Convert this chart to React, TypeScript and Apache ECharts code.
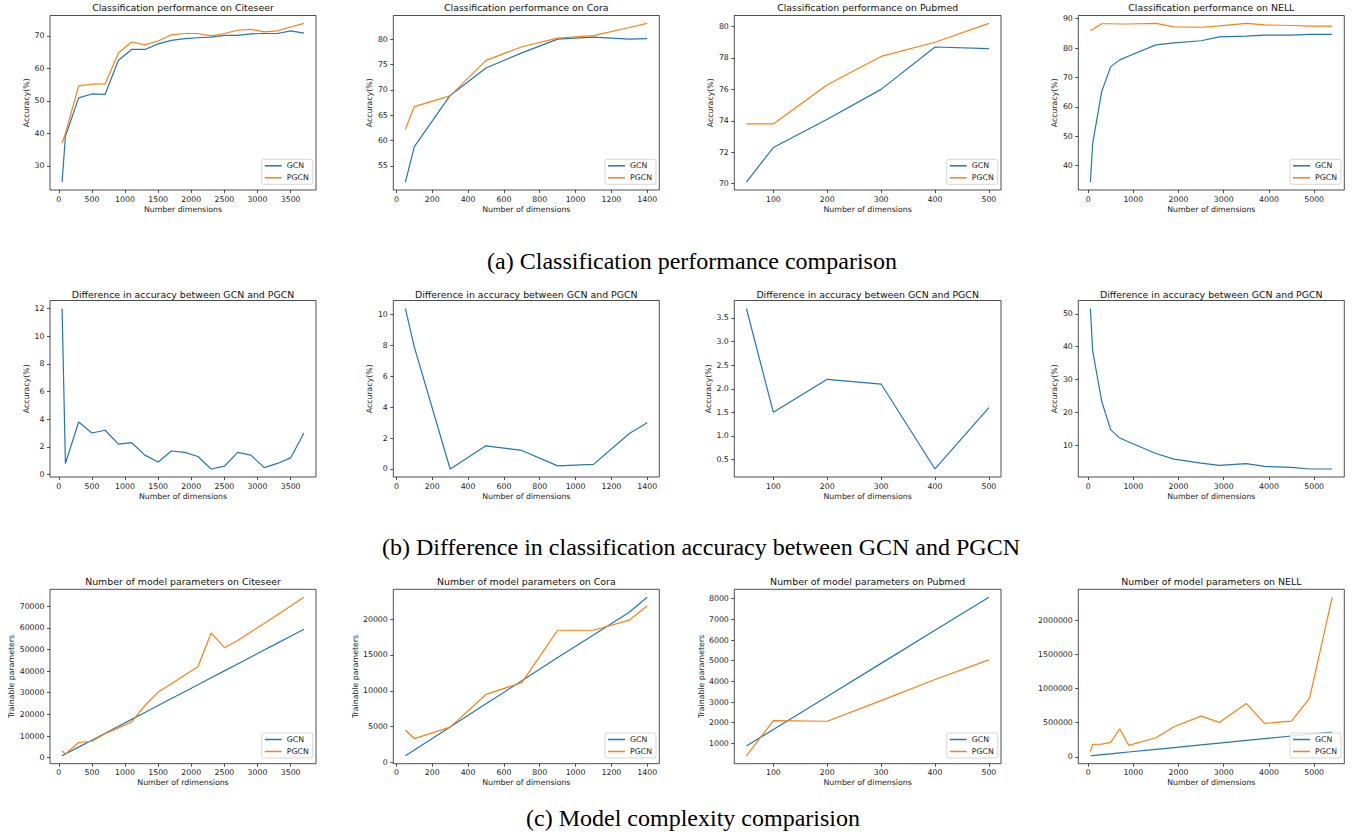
import React, { useEffect, useRef } from "react";
import * as echarts from "echarts";

const BLUE = "#1f77b4";
const ORANGE = "#ff7f0e";
const TXT = "#222";
const FONT = "DejaVu Sans";

// ---------- Citeseer ----------
const citeseerDims = [50, 100, 300, 500, 700, 900, 1100, 1300, 1500, 1700, 1900, 2100, 2300, 2500, 2700, 2900, 3100, 3300, 3500, 3700];
const citeseerGcnAcc = [25.0, 39.1, 50.9, 52.1, 52.0, 62.5, 65.8, 65.8, 67.5, 68.6, 69.1, 69.4, 69.6, 70.1, 70.1, 70.6, 70.7, 70.7, 71.5, 70.8];
const citeseerPgcnAcc = [37.0, 39.9, 54.6, 55.1, 55.2, 64.7, 68.1, 67.2, 68.4, 70.3, 70.7, 70.7, 70.0, 70.7, 71.7, 72.0, 71.2, 71.5, 72.7, 73.8];
const citeseerAccDiff = [12.0, 0.8, 3.8, 3.0, 3.2, 2.2, 2.3, 1.4, 0.9, 1.7, 1.6, 1.3, 0.4, 0.6, 1.6, 1.4, 0.5, 0.8, 1.2, 3.0];
const citeseerGcnParams = [900, 1700, 4900, 8100, 11300, 14500, 17700, 20900, 24100, 27300, 30500, 33700, 36900, 40100, 43300, 46500, 49700, 52900, 56100, 59300];
const citeseerPgcnParams = [3100, 1700, 7000, 7600, 11100, 13800, 16500, 24100, 30300, 34200, 38100, 42000, 57600, 50800, 54100, 58100, 62000, 66000, 70000, 74100];

// ---------- Cora ----------
const coraDims = [50, 100, 300, 500, 700, 900, 1100, 1300, 1400];
const coraGcnAcc = [51.8, 58.8, 68.9, 74.3, 77.3, 80.0, 80.4, 80.0, 80.1];
const coraPgcnAcc = [62.2, 66.7, 68.8, 75.8, 78.5, 80.2, 80.7, 82.3, 83.1];
const coraAccDiff = [10.4, 7.9, 0.0, 1.5, 1.2, 0.2, 0.3, 2.3, 3.0];
const coraGcnParams = [950, 1750, 4950, 8200, 11400, 14650, 17800, 20950, 23050];
const coraPgcnParams = [4550, 3350, 4950, 9500, 11150, 18450, 18450, 19850, 21850];

// ---------- Pubmed ----------
const pubmedDims = [50, 100, 200, 300, 400, 500];
const pubmedGcnAcc = [70.1, 72.3, 74.1, 76.0, 78.7, 78.6];
const pubmedPgcnAcc = [73.8, 73.8, 76.3, 78.1, 79.0, 80.2];
const pubmedAccDiff = [3.7, 1.5, 2.2, 2.1, 0.3, 1.6];
const pubmedGcnParams = [870, 1670, 3270, 4870, 6470, 8070];
const pubmedPgcnParams = [400, 2100, 2070, 3070, 4090, 5040];

// ---------- NELL ----------
const nellDims = [50, 100, 300, 500, 700, 900, 1500, 1900, 2500, 2900, 3500, 3900, 4500, 4900, 5400];
const nellGcnAcc = [34.4, 47.5, 65.2, 73.7, 76.0, 77.3, 81.1, 81.8, 82.5, 83.8, 84.1, 84.4, 84.4, 84.7, 84.7];
const nellPgcnAcc = [86.1, 86.3, 88.3, 88.3, 88.2, 88.2, 88.4, 87.2, 87.1, 87.6, 88.4, 87.9, 87.7, 87.5, 87.5];
const nellAccDiff = [51.6, 38.8, 23.4, 14.7, 12.2, 11.0, 7.5, 5.8, 4.6, 3.9, 4.4, 3.6, 3.3, 2.8, 2.8];
const nellGcnParams = [15000, 18000, 31000, 44000, 57000, 70000, 110000, 136000, 175000, 201000, 240000, 266000, 305000, 331000, 364000];
const nellPgcnParams = [78000, 181000, 186000, 211000, 412000, 167000, 279000, 441000, 598000, 505000, 784000, 490000, 525000, 863000, 2343000];

// ---------- tick labels ----------
const citeseerXTicks = [0, 500, 1000, 1500, 2000, 2500, 3000, 3500];
const coraXTicks = [0, 200, 400, 600, 800, 1000, 1200, 1400];
const pubmedXTicks = [100, 200, 300, 400, 500];
const nellXTicks = [0, 1000, 2000, 3000, 4000, 5000];

const citeseerAccTicks = [30, 40, 50, 60, 70];
const coraAccTicks = [55, 60, 65, 70, 75, 80];
const pubmedAccTicks = [70, 72, 74, 76, 78, 80];
const nellAccTicks = [40, 50, 60, 70, 80, 90];
const citeseerDiffTicks = [0, 2, 4, 6, 8, 10, 12];
const coraDiffTicks = [0, 2, 4, 6, 8, 10];
const pubmedDiffTicks = [0.5, 1.0, 1.5, 2.0, 2.5, 3.0, 3.5];
const nellDiffTicks = [10, 20, 30, 40, 50];
const citeseerParamTicks = [0, 10000, 20000, 30000, 40000, 50000, 60000, 70000];
const coraParamTicks = [0, 5000, 10000, 15000, 20000];
const pubmedParamTicks = [1000, 2000, 3000, 4000, 5000, 6000, 7000, 8000];
const nellParamTicks = [0, 500000, 1000000, 1500000, 2000000];

const captions = [
  "(a) Classification performance comparison",
  "(b) Difference in classification accuracy between GCN and PGCN",
  "(c) Model complexity comparision",
];

// ---------- layout ----------
const COLS = [
  { left: 50, right: 316 },
  { left: 393.3, right: 659.3 },
  { left: 734.3, right: 1001 },
  { left: 1078.3, right: 1344.3 },
];
const ROWS = [
  { top: 15.5, bottom: 190, titleY: 7.5 },
  { top: 300.5, bottom: 477, titleY: 294.3 },
  { top: 589.3, bottom: 763.7, titleY: 581.3 },
];
const CAPTION_POS = [
  { x: 692, y: 261 },
  { x: 701, y: 547 },
  { x: 693, y: 818 },
];

type Panel = {
  row: number;
  col: number;
  title: string;
  xName: string;
  yName: string;
  yNameGap: number;
  dims: number[];
  lines: { name: string; values: number[]; color: string }[];
  xTicks: number[];
  yTicks: number[];
  decimals: number;
  legend: boolean;
};

const acc = "Accuracy(%)";
const par = "Trainable parameters";
const nod = "Number of dimensions";
const diffTitle = "Difference in accuracy between GCN and PGCN";

const panels: Panel[] = [
  { row: 0, col: 0, title: "Classification performance on Citeseer", xName: "Number dimensions", yName: acc, yNameGap: 19, dims: citeseerDims,
    lines: [{ name: "GCN", values: citeseerGcnAcc, color: BLUE }, { name: "PGCN", values: citeseerPgcnAcc, color: ORANGE }],
    xTicks: citeseerXTicks, yTicks: citeseerAccTicks, decimals: 0, legend: true },
  { row: 0, col: 1, title: "Classification performance on Cora", xName: nod, yName: acc, yNameGap: 19, dims: coraDims,
    lines: [{ name: "GCN", values: coraGcnAcc, color: BLUE }, { name: "PGCN", values: coraPgcnAcc, color: ORANGE }],
    xTicks: coraXTicks, yTicks: coraAccTicks, decimals: 0, legend: true },
  { row: 0, col: 2, title: "Classification performance on Pubmed", xName: nod, yName: acc, yNameGap: 19, dims: pubmedDims,
    lines: [{ name: "GCN", values: pubmedGcnAcc, color: BLUE }, { name: "PGCN", values: pubmedPgcnAcc, color: ORANGE }],
    xTicks: pubmedXTicks, yTicks: pubmedAccTicks, decimals: 0, legend: true },
  { row: 0, col: 3, title: "Classification performance on NELL", xName: nod, yName: acc, yNameGap: 19, dims: nellDims,
    lines: [{ name: "GCN", values: nellGcnAcc, color: BLUE }, { name: "PGCN", values: nellPgcnAcc, color: ORANGE }],
    xTicks: nellXTicks, yTicks: nellAccTicks, decimals: 0, legend: true },

  { row: 1, col: 0, title: diffTitle, xName: nod, yName: acc, yNameGap: 19, dims: citeseerDims,
    lines: [{ name: "diff", values: citeseerAccDiff, color: BLUE }],
    xTicks: citeseerXTicks, yTicks: citeseerDiffTicks, decimals: 0, legend: false },
  { row: 1, col: 1, title: diffTitle, xName: nod, yName: acc, yNameGap: 19, dims: coraDims,
    lines: [{ name: "diff", values: coraAccDiff, color: BLUE }],
    xTicks: coraXTicks, yTicks: coraDiffTicks, decimals: 0, legend: false },
  { row: 1, col: 2, title: diffTitle, xName: nod, yName: acc, yNameGap: 19, dims: pubmedDims,
    lines: [{ name: "diff", values: pubmedAccDiff, color: BLUE }],
    xTicks: pubmedXTicks, yTicks: pubmedDiffTicks, decimals: 1, legend: false },
  { row: 1, col: 3, title: diffTitle, xName: nod, yName: acc, yNameGap: 19, dims: nellDims,
    lines: [{ name: "diff", values: nellAccDiff, color: BLUE }],
    xTicks: nellXTicks, yTicks: nellDiffTicks, decimals: 0, legend: false },

  { row: 2, col: 0, title: "Number of model parameters on Citeseer", xName: "Number of rdimensions", yName: par, yNameGap: 34, dims: citeseerDims,
    lines: [{ name: "GCN", values: citeseerGcnParams, color: BLUE }, { name: "PGCN", values: citeseerPgcnParams, color: ORANGE }],
    xTicks: citeseerXTicks, yTicks: citeseerParamTicks, decimals: 0, legend: true },
  { row: 2, col: 1, title: "Number of model parameters on Cora", xName: nod, yName: par, yNameGap: 34, dims: coraDims,
    lines: [{ name: "GCN", values: coraGcnParams, color: BLUE }, { name: "PGCN", values: coraPgcnParams, color: ORANGE }],
    xTicks: coraXTicks, yTicks: coraParamTicks, decimals: 0, legend: true },
  { row: 2, col: 2, title: "Number of model parameters on Pubmed", xName: nod, yName: par, yNameGap: 29, dims: pubmedDims,
    lines: [{ name: "GCN", values: pubmedGcnParams, color: BLUE }, { name: "PGCN", values: pubmedPgcnParams, color: ORANGE }],
    xTicks: pubmedXTicks, yTicks: pubmedParamTicks, decimals: 0, legend: true },
  { row: 2, col: 3, title: "Number of model parameters on NELL", xName: nod, yName: "", yNameGap: 30, dims: nellDims,
    lines: [{ name: "GCN", values: nellGcnParams, color: BLUE }, { name: "PGCN", values: nellPgcnParams, color: ORANGE }],
    xTicks: nellXTicks, yTicks: nellParamTicks, decimals: 0, legend: true },
];

function padded(values: number[]): [number, number] {
  const lo = Math.min(...values);
  const hi = Math.max(...values);
  const m = (hi - lo) * 0.05;
  return [lo - m, hi + m];
}

function buildOption() {
  const grid: any[] = [];
  const xAxis: any[] = [];
  const yAxis: any[] = [];
  const series: any[] = [];
  const legend: any[] = [];
  const graphic: any[] = [];

  panels.forEach((p, i) => {
    const c = COLS[p.col];
    const r = ROWS[p.row];
    grid.push({
      left: c.left, top: r.top, width: c.right - c.left, height: r.bottom - r.top,
      show: true, borderColor: TXT, borderWidth: 0.8, backgroundColor: "transparent",
    });
    const [xMin, xMax] = padded(p.dims);
    const allY = p.lines.flatMap((l) => l.values);
    const [yMin, yMax] = padded(allY);
    xAxis.push({
      gridIndex: i, type: "value", min: xMin, max: xMax, position: "bottom",
      axisLine: { show: false, onZero: false },
      axisTick: { show: true, length: 3, customValues: p.xTicks, lineStyle: { color: TXT, width: 0.8 } },
      axisLabel: { customValues: p.xTicks, margin: 5, fontSize: 7.8, color: TXT, fontFamily: FONT, formatter: (v: number) => String(v) },
      splitLine: { show: false },
      name: p.xName, nameLocation: "middle", nameGap: 15,
      nameTextStyle: { fontSize: 7.8, color: TXT, fontFamily: FONT },
    });
    yAxis.push({
      gridIndex: i, type: "value", min: yMin, max: yMax, position: "left",
      axisLine: { show: false, onZero: false },
      axisTick: { show: true, length: 3, customValues: p.yTicks, lineStyle: { color: TXT, width: 0.8 } },
      axisLabel: {
        customValues: p.yTicks, margin: 5.5, fontSize: 7.8, color: TXT, fontFamily: FONT,
        formatter: (v: number) => (p.decimals ? v.toFixed(p.decimals) : String(Math.round(v))),
      },
      splitLine: { show: false },
      name: p.yName, nameLocation: "middle", nameGap: p.yNameGap,
      nameTextStyle: { fontSize: 7.8, color: TXT, fontFamily: FONT },
    });
    p.lines.forEach((l) => {
      series.push({
        type: "line", name: l.name, xAxisIndex: i, yAxisIndex: i,
        data: p.dims.map((d, k) => [d, l.values[k]]),
        showSymbol: false, symbol: "none", color: l.color,
        lineStyle: { width: 1.2, color: l.color }, itemStyle: { color: l.color },
      });
    });
    if (p.legend) {
      legend.push({
        data: ["GCN", "PGCN"], orient: "vertical", left: c.right - 54.3, top: r.bottom - 30.7,
        icon: "rect", itemWidth: 17, itemHeight: 1.5, itemGap: 3, itemTextGap: 5,
        padding: [2, 4, 2, 3], borderColor: "#ccc", borderWidth: 0.8, borderRadius: 2,
        backgroundColor: "rgba(255,255,255,0.8)", selectedMode: false, z: 10,
        textStyle: { fontSize: 7.8, lineHeight: 9, color: TXT, fontFamily: FONT },
      });
    }
    graphic.push({
      type: "text", x: (c.left + c.right) / 2, y: r.titleY, z: 20,
      style: {
        text: p.title, fontSize: 9.4, fontFamily: FONT, fill: "#111",
        align: "center", verticalAlign: "middle", textAlign: "center", textVerticalAlign: "middle",
      },
    });
  });

  captions.forEach((t, k) => {
    graphic.push({
      type: "text", x: CAPTION_POS[k].x, y: CAPTION_POS[k].y, z: 20,
      style: {
        text: t, fontSize: 24, fontFamily: "Liberation Serif", fill: "#000",
        align: "center", verticalAlign: "middle", textAlign: "center", textVerticalAlign: "middle",
      },
    });
  });

  return { animation: false, backgroundColor: "#fff", grid, xAxis, yAxis, series, legend, graphic };
}

export default function App() {
  const ref = useRef<HTMLDivElement>(null);
  useEffect(() => {
    const chart = echarts.init(ref.current!, null, { renderer: "svg" });
    chart.setOption(buildOption() as any);
    return () => chart.dispose();
  }, []);
  return (
    <div
      ref={ref}
      style={{ position: "absolute", left: 0, top: 0, width: 1363, height: 836, background: "#fff" }}
    />
  );
}
